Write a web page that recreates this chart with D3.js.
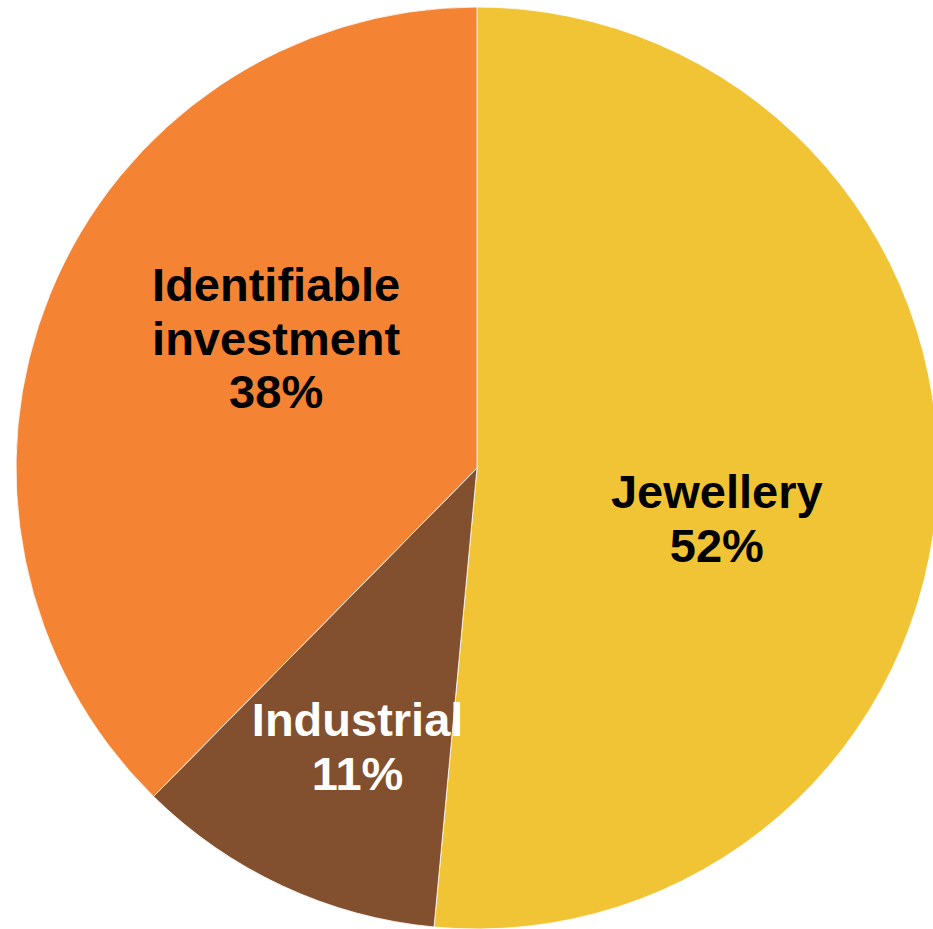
<!DOCTYPE html>
<html>
<head>
<meta charset="utf-8">
<script src="https://cdn.jsdelivr.net/npm/d3@7"></script>
<style>
  html, body { margin: 0; padding: 0; background: #ffffff; }
  svg { display: block; }
</style>
</head>
<body>
<svg id="chart" width="933" height="929"></svg>
<script>
// Gold demand by category, percent shares
const categories = ["Jewellery", "Industrial", "Identifiable investment"];
const shares = [52, 11, 38];
const labelLines = [["Jewellery"], ["Industrial"], ["Identifiable", "investment"]];

const colors = ["#F1C435", "#82502E", "#F48334"];
const textColors = ["#000000", "#ffffff", "#000000"];

// label placement: fraction of radius and angular nudge from slice mid-angle (degrees)
const labelRadiusFrac = [0.54, 0.69, 0.50];
const labelAngleNudge = [12.9, -2.9, 7.1];

const width = 933, height = 929;
const cx = 477, cy = 468, radius = 461;
const fontSize = 47, lineHeight = 53.5;

const svg = d3.select("#chart");
const g = svg.append("g").attr("transform", `translate(${cx},${cy})`);

const data = categories.map((c, i) => ({ category: c, value: shares[i], i }));

const pie = d3.pie().value(d => d.value).sort(null);
const arc = d3.arc().innerRadius(0).outerRadius(radius);
const arcs = pie(data);

g.selectAll("path.slice")
  .data(arcs)
  .join("path")
  .attr("class", "slice")
  .attr("d", arc)
  .attr("fill", d => colors[d.data.i])
  .attr("stroke", "#ffffff")
  .attr("stroke-width", 0.8)
  .attr("stroke-linejoin", "round");

const labels = g.selectAll("text.label")
  .data(arcs)
  .join("text")
  .attr("class", "label")
  .attr("text-anchor", "middle")
  .attr("font-family", "'Liberation Sans', Arial, Helvetica, sans-serif")
  .attr("font-weight", "bold")
  .attr("font-size", fontSize)
  .attr("fill", d => textColors[d.data.i])
  .each(function (d) {
    const i = d.data.i;
    const mid = (d.startAngle + d.endAngle) / 2 + labelAngleNudge[i] * Math.PI / 180;
    const r = radius * labelRadiusFrac[i];
    const x = r * Math.sin(mid);
    const y = -r * Math.cos(mid);
    const lines = labelLines[i].concat([d.data.value + "%"]);
    const n = lines.length;
    const t = d3.select(this);
    lines.forEach((line, k) => {
      t.append("tspan")
        .attr("x", x)
        .attr("y", y + (k - (n - 1) / 2) * lineHeight)
        .text(line);
    });
  });
</script>
</body>
</html>
